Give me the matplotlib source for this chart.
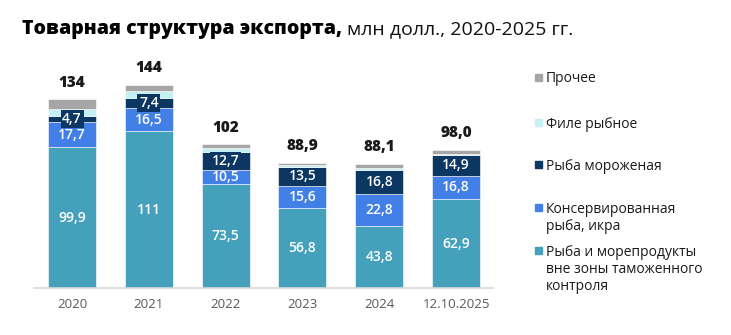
import matplotlib.pyplot as plt
from matplotlib.patches import Rectangle

plt.rcParams['font.family'] = ['Open Sans', 'DejaVu Sans']

years = ['2020', '2021', '2022', '2023', '2024', '12.10.2025']
totals = ['134', '144', '102', '88,9', '88,1', '98,0']
total_vals = [134, 144, 102, 88.9, 88.1, 98.0]

sea_outside = [99.9, 111, 73.5, 56.8, 43.8, 62.9]
canned = [17.7, 16.5, 10.5, 15.6, 22.8, 16.8]
frozen = [4.7, 7.4, 12.7, 13.5, 16.8, 14.9]
fillet = [4.7, 4.5, 2.9, 1.1, 1.6, 0.4]
other = [7.0, 4.6, 2.4, 1.9, 3.1, 3.0]

series = [
    (sea_outside, '#45A1BB', 'Рыба и морепродукты\nвне зоны таможенного\nконтроля'),
    (canned, '#4280E8', 'Консервированная\nрыба, икра'),
    (frozen, '#0B3762', 'Рыба мороженая'),
    (fillet, '#C4F0F4', 'Филе рыбное'),
    (other, '#A6A6A6', 'Прочее'),
]
labelled = ['#45A1BB', '#4280E8', '#0B3762']

W, H = 731, 335
fig = plt.figure(figsize=(W / 100, H / 100), dpi=100)
ax = fig.add_axes([34 / W, 47 / H, (493 - 34) / W, 228 / H])

x = range(len(years))
bottom = [0] * len(years)
for vals, color, name in series:
    ax.bar(x, vals, width=0.625, bottom=bottom, color=color,
           edgecolor='white', linewidth=0.4)
    if color in labelled:
        for i, v in enumerate(vals):
            txt = f'{v:g}'.replace('.', ',')
            box = None
            if color == '#0B3762':
                # small segments: the label sits on a box of the same colour
                box = dict(boxstyle='square,pad=0.12', fc=color, ec='none')
            ax.text(i, bottom[i] + v / 2, txt, ha='center', va='center',
                    color='white', fontsize=10, fontweight='semibold', bbox=box)
    bottom = [b + v for b, v in zip(bottom, vals)]

for i, t in enumerate(totals):
    ax.text(i, total_vals[i] + 6, t, ha='center', va='bottom',
            fontsize=11, fontweight='heavy', color='#1a1a1a')

ax.set_xlim(-0.495, 5.48)
ax.set_ylim(0, 161.7)
ax.set_xticks(list(x))
ax.set_xticklabels(years, fontsize=9.5, color='#595959')
ax.tick_params(axis='x', length=0, pad=7)
ax.set_yticks([])
for s in ['top', 'right', 'left']:
    ax.spines[s].set_visible(False)
ax.spines['bottom'].set_color('#D9D9D9')
ax.spines['bottom'].set_linewidth(1.2)

# title: bold part followed by a regular part
t1 = fig.text(22 / W, 1 - 29 / H, 'Товарная структура экспорта,', fontsize=14,
              fontweight='heavy', va='center', ha='left', color='black')
fig.canvas.draw()
bb = t1.get_window_extent()
fig.text((bb.x1 + 5) / W, 1 - 29 / H, 'млн долл., 2020-2025 гг.', fontsize=14,
         fontweight='normal', va='center', ha='left', color='#111111')

# legend
legend_y = [77, 122, 164, 207, 250]
for (vals, color, name), ly in zip(reversed(series), legend_y):
    fig.patches.append(Rectangle((535 / W, 1 - (ly + 3.5) / H), 7 / W, 7 / H,
                                 transform=fig.transFigure, color=color))
    fig.text(546 / W, 1 - (ly - 5.5) / H, name, fontsize=10, va='top', ha='left',
             color='#1a1a1a', linespacing=1.2)

fig.savefig('out.png', dpi=100)
